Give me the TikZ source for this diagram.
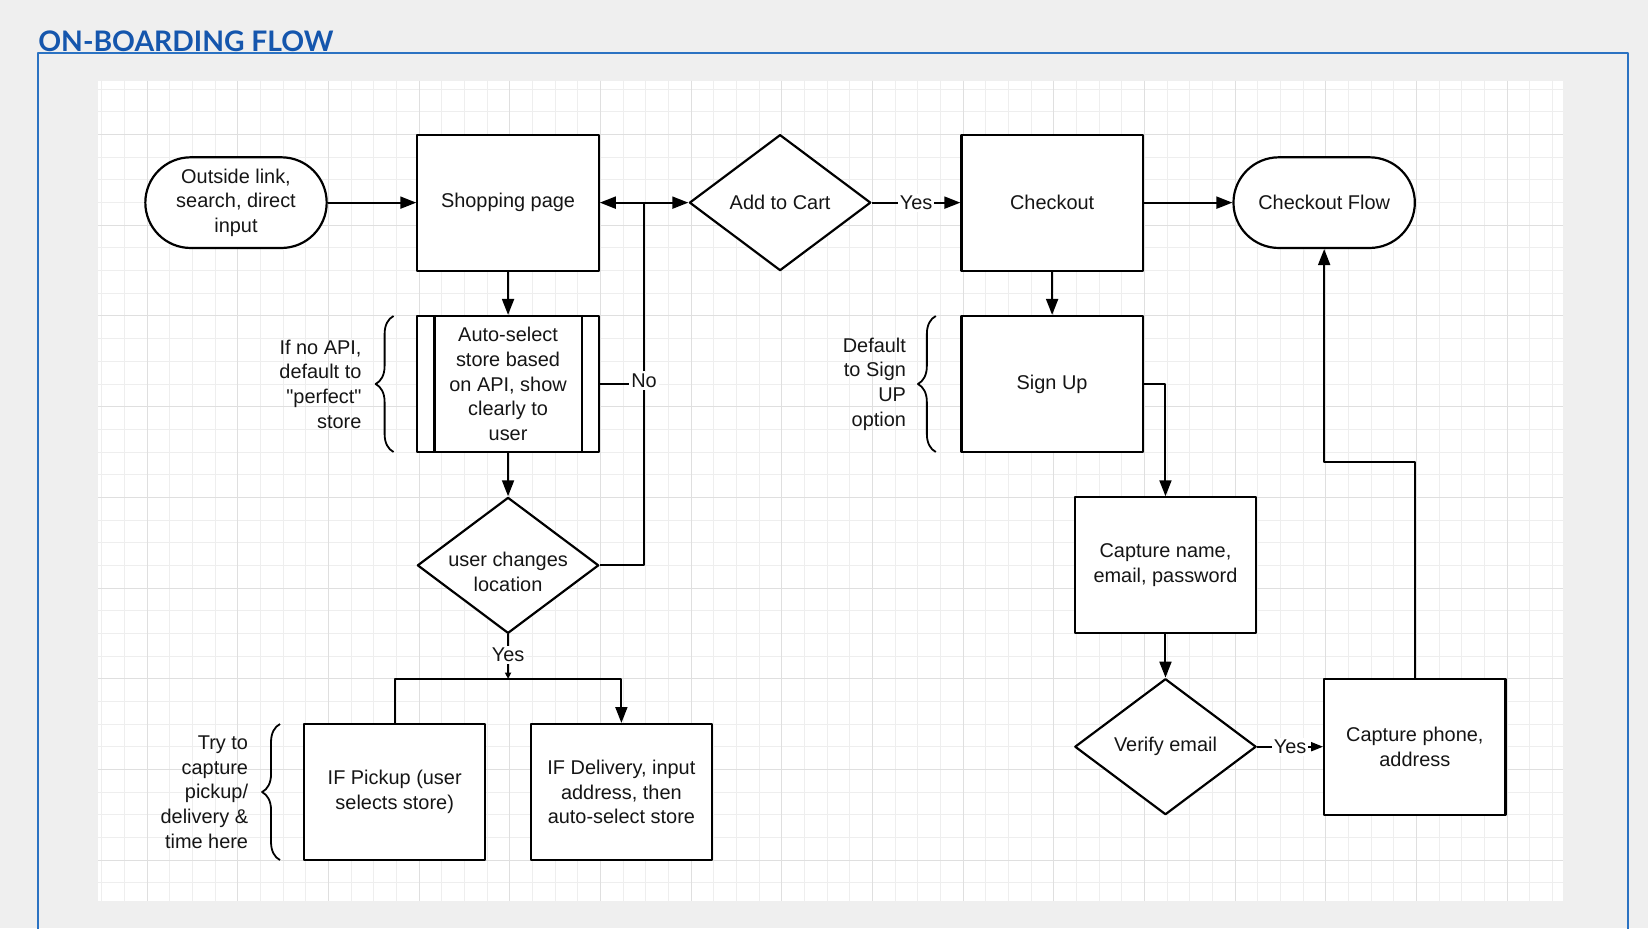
\documentclass[tikz,border=0pt]{standalone}
\usepackage{fontspec}
\setmainfont{Liberation Sans}[Ligatures = TeXOff]
\newfontfamily\titlefont{Lato}
\usetikzlibrary{calc}
\usetikzlibrary{arrows.meta}
\usetikzlibrary{shapes.geometric}
\usetikzlibrary{decorations.pathreplacing}

\definecolor{pagegray}{HTML}{EFEFEF}
\definecolor{gridminor}{HTML}{EEEEEE}
\definecolor{gridmajor}{HTML}{DFDFDF}
\definecolor{titleblue}{HTML}{1556AD}
\definecolor{frameblue}{HTML}{2B72C2}
\definecolor{ink}{HTML}{151515}

\tikzset{
  every node/.style = {font = \fontsize{10}{12.4}\selectfont, text = ink},
  procbox/.style = {draw, line width = 1.1pt, fill = white, minimum width = 3.2cm,
  minimum height = 2.4cm, align = center, inner sep = 2pt},
  termbox/.style = {procbox, rounded corners = .8cm, minimum height = 1.6cm},
  decision/.style = {procbox, diamond, aspect = 1.333, inner sep = -4pt},
  flow/.style = {line width = 1pt, -{Triangle[length = 8pt, width = 6pt]}},
  link/.style = {line width = 1pt},
  lbl/.style = {fill = white, inner sep = 1pt},
  note/.style = {align = right, inner sep = 0pt},
  curly/.style = {line width = .9pt, decorate, decoration = {brace, amplitude = 9pt}}
}

\begin{document}
\begin{tikzpicture}[x = .4cm, y = -.4cm, line join = round]
  % page, frame and title
  \fill[pagegray] (-4.486, -3.939) rectangle (68.21, 37);
  \useasboundingbox (-4.486, -3.939) rectangle (68.21, 37);
  \draw[frameblue, line width = 1pt] (-2.81, 37.5) -- (-2.81, -1.58) -- (67.33, -1.58)
  -- (67.33, 37.5);
  \node[font = \titlefont\bfseries\fontsize{14.2}{16}\selectfont, text = titleblue,
  anchor = base west, inner sep = 0pt] (title) at (-2.81, -1.645) {ON-BOARDING FLOW};

  % grid paper
  \fill[white] (-.16, -.37) rectangle (64.46, 35.79);
  \foreach \i in {0, ..., 64}
    \draw[gridminor, line width = .5pt] (\i, -.37) -- (\i, 35.79);
  \foreach \j in {0, ..., 35}
    \draw[gridminor, line width = .5pt] (-.16, \j) -- (64.46, \j);
  \foreach \i in {2, 6, ..., 62}
    \draw[gridmajor, line width = .5pt] (\i, -.37) -- (\i, 35.79);
  \foreach \j in {2, 6, ..., 34}
    \draw[gridmajor, line width = .5pt] (-.16, \j) -- (64.46, \j);

  \begin{scope}[xshift = -.03cm]
  \node[termbox] (outside) at (6, 5) {Outside link,\\search, direct\\input};
  \node[procbox] (shop) at (18, 5) {Shopping page};
  \node[decision] (cart) at (30, 5) {Add to Cart};
  \node[procbox] (checkout) at (42, 5) {Checkout};
  \node[termbox] (cflow) at (54, 5) {Checkout Flow};

  \node[procbox] (autosel) at (18, 13) {Auto-select\\store based\\on API, show\\clearly
  to\\user};
  \draw[line width = 1.1pt] ($(autosel.north west) + (.8, 0)$) --
  ($(autosel.south west) + (.8, 0)$);
  \draw[line width = 1.1pt] ($(autosel.north east) - (.8, 0)$) --
  ($(autosel.south east) - (.8, 0)$);
  \node[decision] (relocate) at (18, 21) {\rule{0pt}{13.5pt}user changes\\location};
  \node[procbox] (pickup) at (13, 31) {IF Pickup (user\\selects store)};
  \node[procbox] (delivery) at (23, 31) {IF Delivery, input\\address, then\\auto-select
  store};

  \node[procbox] (signup) at (42, 13) {Sign Up};
  \node[procbox] (capname) at (47, 21) {Capture name,\\email, password};
  \node[decision] (verify) at (47, 29) {Verify email};
  \node[procbox] (capphone) at (58, 29) {Capture phone,\\address};

  \draw[flow] (outside) -- (shop);
  \draw[link, {Triangle[length = 8pt, width = 6pt]}-{Triangle[length = 8pt, width = 6pt]}]
  (shop) -- (cart);
  \coordinate (nojoin) at (24, 5);
  \node[lbl] (no) at (24, 12.85) {No};
  \draw[link] (relocate.east) -| (no.south);
  \draw[link] (no.north) -- (nojoin);
  \draw[link] (autosel.east) -- (autosel.east -| no.west);

  \draw[flow] (shop) -- (autosel);
  \draw[flow] (autosel) -- (relocate);
  \node[lbl] (yesloc) at (18, 24.95) {Yes};
  \coordinate (split) at (18, 26);
  \draw[link] (relocate.south) -- (yesloc.north);
  \draw[link, -{Triangle[length = 3pt, width = 3pt]}] (yesloc.south) -- (split);
  \draw[flow] (pickup.north) |- (split) -| (delivery.north);

  \draw[flow] (cart) -- node[lbl] (yescart) {Yes} (checkout);
  \draw[flow] (checkout) -- (cflow);
  \draw[flow] (checkout) -- (signup);
  \draw[flow] (signup.east) -| (capname.north);
  \draw[flow] (capname) -- (verify);
  \draw[link, -{Triangle[length = 6pt, width = 4.5pt]}] (verify) -- node[lbl] (yesverify)
  {Yes} (capphone);
  \draw[flow] (capphone.north) -- ++(0, -9.5) -| (cflow.south);

  % side notes
  \draw[curly] (12.95, 16) -- (12.95, 10);
  \node[note, anchor = east] (apinote) at (11.55, 13) {If no API,\\default
  to\\"perfect"\\store};
  \draw[curly] (36.87, 16) -- (36.87, 10);
  \node[note, anchor = east] (signnote) at (35.57, 13) {Default\\to Sign\\UP\\option};
  \draw[curly] (7.94, 34) -- (7.94, 28);
  \node[note, anchor = east] (pickupnote) at (6.55, 31) {Try to\\capture\\pickup/\\delivery
  \&\\time here};
  \end{scope}
\end{tikzpicture}
\end{document}
